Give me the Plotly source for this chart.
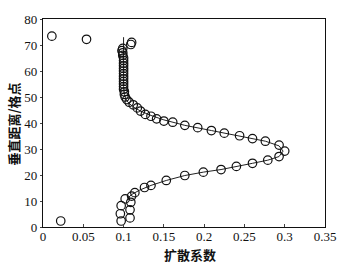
import plotly.graph_objects as go

# measured data points (diffusion coefficient vs vertical grid level)
pts_x = [0.011, 0.054, 0.022,
         0.110, 0.109, 0.099, 0.098, 0.099, 0.099, 0.100, 0.100, 0.100, 0.100, 0.100,
         0.100, 0.100, 0.100, 0.100, 0.100, 0.100, 0.100, 0.100, 0.101, 0.101, 0.102,
         0.104, 0.107, 0.112, 0.117, 0.121, 0.127, 0.134, 0.141, 0.150, 0.161, 0.176,
         0.192, 0.209, 0.225, 0.244, 0.260, 0.276, 0.293, 0.300, 0.293, 0.279, 0.260,
         0.240, 0.221, 0.199, 0.176, 0.153, 0.134, 0.126, 0.114, 0.110, 0.102, 0.109,
         0.097, 0.108, 0.096, 0.108, 0.097]
pts_y = [73.4, 72.2, 2.3,
         71.0, 70.2, 68.7, 67.8, 67.0, 66.0, 65.0, 64.0, 63.0, 62.0, 61.0,
         60.0, 59.0, 58.0, 57.0, 56.0, 55.0, 54.0, 53.0, 52.0, 51.0, 50.0,
         49.0, 48.0, 47.0, 45.8, 44.6, 43.3, 42.6, 41.6, 40.75, 40.3, 39.1,
         38.2, 37.1, 36.1, 35.1, 34.0, 33.0, 31.5, 29.2, 27.1, 25.7, 24.5,
         23.3, 22.1, 21.1, 19.8, 17.9, 16.0, 15.2, 13.2, 11.9, 10.8, 9.5,
         8.2, 6.6, 5.1, 3.5, 2.3]

# fitted curve
fit_x = [0.100, 0.100, 0.100, 0.100, 0.101, 0.103, 0.107, 0.113, 0.121, 0.133, 0.150,
         0.176, 0.209, 0.244, 0.276, 0.293, 0.298, 0.293, 0.279, 0.260, 0.240, 0.221,
         0.199, 0.176, 0.153, 0.134, 0.120, 0.110, 0.105]
fit_y = [73.0, 68.0, 60.0, 54.0, 51.0, 49.0, 47.5, 46.0, 44.6, 43.0, 41.2,
         39.1, 37.1, 35.1, 33.0, 31.2, 29.2, 27.1, 25.7, 24.5, 23.3, 22.1,
         21.1, 19.8, 17.9, 16.0, 14.2, 12.5, 11.0]

x_ticks = [0, 0.05, 0.1, 0.15, 0.2, 0.25, 0.3, 0.35]
x_tick_text = ["0", "0.05", "0.1", "0.15", "0.2", "0.25", "0.3", "0.35"]
y_ticks = [0, 10, 20, 30, 40, 50, 60, 70, 80]
x_title = "扩散系数"
y_title = "垂直距离/格点"

fig = go.Figure()
fig.add_trace(go.Scatter(x=fit_x, y=fit_y, mode="lines",
                         line=dict(color="#222", width=1), showlegend=False))
fig.add_trace(go.Scatter(x=pts_x, y=pts_y, mode="markers",
                         marker=dict(symbol="circle-open", size=8.5, color="#111",
                                     line=dict(width=1.2)),
                         showlegend=False))

tick_font = dict(family="Liberation Serif", size=13, color="#111")
title_font = dict(family="Noto Sans CJK SC", size=13, color="#111", weight="bold")
fig.update_layout(
    width=348, height=268,
    margin=dict(l=43, r=19, t=15, b=41),
    paper_bgcolor="white", plot_bgcolor="white",
    xaxis=dict(range=[0, 0.35], tickvals=x_ticks, ticktext=x_tick_text,
               ticks="inside", ticklen=3, showline=True, linecolor="#111",
               linewidth=1.2, mirror=True, showgrid=False, zeroline=False,
               tickfont=tick_font, ticklabelstandoff=-3),
    yaxis=dict(range=[0, 80], tickvals=y_ticks,
               ticks="outside", ticklen=2, showline=True, linecolor="#111",
               linewidth=1.2, mirror=True, showgrid=False, zeroline=False,
               tickfont=tick_font),
    annotations=[
        dict(text=x_title, xref="paper", yref="paper", x=0.521, y=-0.132,
             showarrow=False, xanchor="center", yanchor="middle", font=title_font),
        dict(text=y_title, xref="paper", yref="paper", x=-0.108, y=0.495,
             showarrow=False, xanchor="center", yanchor="middle", textangle=-90,
             font=title_font),
    ],
)
# remove the default 8px page margin so the figure sits at the window's corner
fig.write_html("out.html", config={"displayModeBar": False},
               post_script="document.body.style.margin='0';")
